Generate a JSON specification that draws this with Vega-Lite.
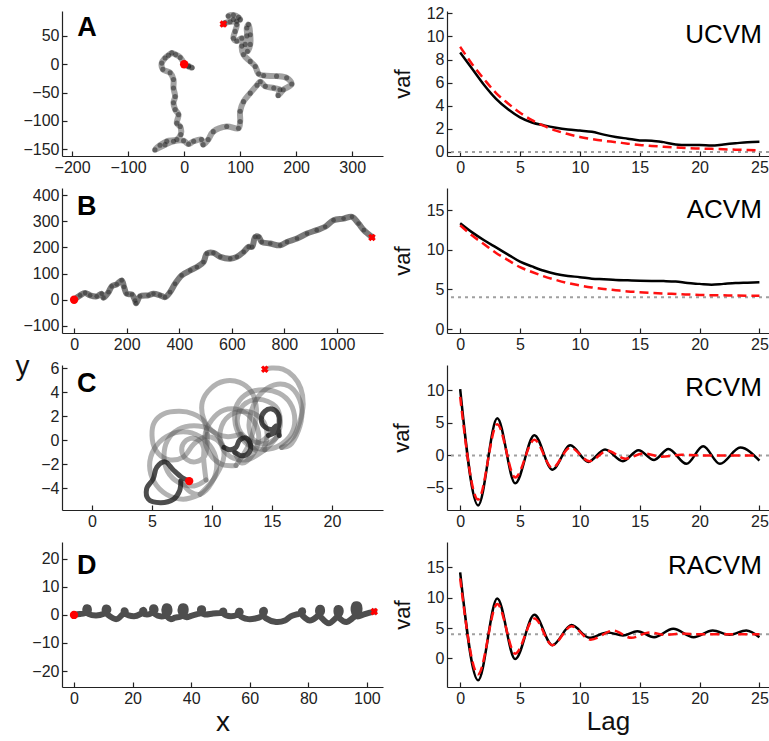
{
"$schema": "https://vega.github.io/schema/vega-lite/v6.json",
"padding": {"left": 15, "top": 5, "right": 0, "bottom": 0},
"background": "white",
"bounds": "flush",
"columns": 2,
"spacing": {"row": 32, "column": 64},
"config": {
  "view": {"stroke": null},
  "font": "Liberation Sans",
  "axis": {"grid": false, "tickCount": 100, "tickSize": -5, "tickColor": "#222", "domainColor": "#222", "domainWidth": 1.2, "tickWidth": 1.2, "labelFontSize": 16, "labelColor": "#222", "labelPadding": 8, "labelOverlap": false, "labelFlush": false, "format": "d", "titleFontWeight": "normal", "titleColor": "#111", "titleFontSize": 22, "labelFont": "Liberation Sans", "titleFont": "Liberation Sans"}
},
"datasets": {
  "one": [{"n": 1}],
  "A_path": [{"x":0,"y":0},{"x":8,"y":-3},{"x":14,"y":-6},{"x":8,"y":-4},{"x":0,"y":2},{"x":-7,"y":12},{"x":-15,"y":17},{"x":-22,"y":20},{"x":-28,"y":16},{"x":-34,"y":11},{"x":-40,"y":2},{"x":-38,"y":-9},{"x":-25,"y":-15},{"x":-19,"y":-27},{"x":-19,"y":-42},{"x":-16,"y":-57},{"x":-19,"y":-68},{"x":-16,"y":-80},{"x":-10,"y":-89},{"x":-13,"y":-104},{"x":-7,"y":-110},{"x":-6,"y":-124},{"x":-13,"y":-133},{"x":-31,"y":-136},{"x":-43,"y":-143},{"x":-52,"y":-151},{"x":-34,"y":-142},{"x":-19,"y":-136},{"x":-1,"y":-135},{"x":8,"y":-141},{"x":17,"y":-136},{"x":31,"y":-133},{"x":34,"y":-142},{"x":43,"y":-133},{"x":52,"y":-119},{"x":76,"y":-110},{"x":97,"y":-113},{"x":100,"y":-101},{"x":100,"y":-83},{"x":106,"y":-66},{"x":118,"y":-51},{"x":130,"y":-37},{"x":136,"y":-31},{"x":145,"y":-39},{"x":160,"y":-42},{"x":171,"y":-45},{"x":168,"y":-55},{"x":177,"y":-45},{"x":192,"y":-35},{"x":183,"y":-24},{"x":165,"y":-21},{"x":142,"y":-20},{"x":133,"y":-17},{"x":127,"y":-4},{"x":118,"y":5},{"x":106,"y":17},{"x":103,"y":32},{"x":112,"y":50},{"x":112,"y":64},{"x":115,"y":70},{"x":118,"y":52},{"x":118,"y":35},{"x":113,"y":23},{"x":109,"y":35},{"x":103,"y":46},{"x":94,"y":41},{"x":88,"y":46},{"x":91,"y":58},{"x":94,"y":70},{"x":88,"y":79},{"x":79,"y":85},{"x":88,"y":87},{"x":97,"y":83},{"x":100,"y":79},{"x":94,"y":76},{"x":82,"y":75},{"x":73,"y":73},{"x":70,"y":71}],
  "B_path": [{"x":0,"y":0},{"x":23,"y":17},{"x":42,"y":26},{"x":61,"y":17},{"x":86,"y":13},{"x":105,"y":23},{"x":112,"y":8},{"x":131,"y":29},{"x":143,"y":51},{"x":162,"y":59},{"x":181,"y":74},{"x":190,"y":49},{"x":200,"y":23},{"x":220,"y":20},{"x":232,"y":-3},{"x":236,"y":-13},{"x":251,"y":13},{"x":283,"y":17},{"x":302,"y":23},{"x":327,"y":17},{"x":346,"y":10},{"x":365,"y":29},{"x":384,"y":61},{"x":409,"y":93},{"x":442,"y":112},{"x":467,"y":125},{"x":492,"y":144},{"x":505,"y":176},{"x":530,"y":179},{"x":556,"y":164},{"x":594,"y":157},{"x":619,"y":164},{"x":645,"y":183},{"x":664,"y":202},{"x":677,"y":202},{"x":689,"y":240},{"x":702,"y":240},{"x":714,"y":221},{"x":746,"y":215},{"x":784,"y":208},{"x":810,"y":221},{"x":848,"y":234},{"x":886,"y":253},{"x":923,"y":266},{"x":955,"y":279},{"x":987,"y":304},{"x":1025,"y":310},{"x":1057,"y":317},{"x":1082,"y":291},{"x":1102,"y":266},{"x":1133,"y":240}],
  "C_path": [
    {"k":1,"x":7.4,"y":-3.4},{"k":1,"x":8.2,"y":-4.3},{"k":1,"x":9.0,"y":-4.5},{"k":1,"x":10.0,"y":-3.5},{"k":1,"x":10.4,"y":-2.1},{"k":1,"x":10.0,"y":-0.7},{"k":1,"x":9.0,"y":0.3},{"k":1,"x":7.6,"y":0.7},{"k":1,"x":6.2,"y":0.3},{"k":1,"x":5.2,"y":-0.7},{"k":1,"x":4.8,"y":-2.1},{"k":1,"x":5.2,"y":-3.5},{"k":1,"x":6.2,"y":-4.5},{"k":1,"x":7.6,"y":-4.9},{"k":1,"x":9.0,"y":-4.5},
    {"k":2,"x":9.0,"y":-4.5},{"k":2,"x":10.3,"y":-3.0},{"k":2,"x":11.0,"y":-1.3},{"k":2,"x":10.7,"y":0.0},{"k":2,"x":9.8,"y":0.9},{"k":2,"x":8.5,"y":1.2},{"k":2,"x":7.2,"y":0.9},{"k":2,"x":6.3,"y":0.0},{"k":2,"x":6.0,"y":-1.3},{"k":2,"x":6.3,"y":-2.6},{"k":2,"x":7.2,"y":-3.5},{"k":2,"x":8.5,"y":-3.8},{"k":2,"x":9.5,"y":-3.3},
    {"k":3,"x":9.5,"y":-3.3},{"k":3,"x":9.3,"y":-1.5},{"k":3,"x":9.3,"y":-0.6},{"k":3,"x":8.9,"y":0.0},{"k":3,"x":8.2,"y":0.15},{"k":3,"x":7.6,"y":-0.3},{"k":3,"x":7.5,"y":-1.0},{"k":3,"x":7.9,"y":-1.6},{"k":3,"x":8.6,"y":-1.8},{"k":3,"x":9.4,"y":-1.3},{"k":3,"x":9.6,"y":0.5},
    {"k":4,"x":9.6,"y":0.5},{"k":4,"x":9.3,"y":1.6},{"k":4,"x":8.4,"y":2.2},{"k":4,"x":7.3,"y":2.4},{"k":4,"x":6.0,"y":2.2},{"k":4,"x":5.2,"y":1.5},{"k":4,"x":5.0,"y":0.4},{"k":4,"x":5.3,"y":-0.8},{"k":4,"x":6.3,"y":-1.6},{"k":4,"x":7.6,"y":-1.4},{"k":4,"x":8.5,"y":-0.3},{"k":4,"x":9.5,"y":0.3},{"k":4,"x":10.3,"y":0.1},{"k":4,"x":11.0,"y":-0.6},
    {"k":5,"x":11.9,"y":-1.0},{"k":5,"x":12.5,"y":-1.9},{"k":5,"x":13.4,"y":-1.2},{"k":5,"x":13.9,"y":0.3},{"k":5,"x":13.4,"y":1.7},{"k":5,"x":12.3,"y":2.5},{"k":5,"x":11.0,"y":2.5},{"k":5,"x":10.0,"y":1.7},{"k":5,"x":9.4,"y":0.3},{"k":5,"x":9.8,"y":-1.1},{"k":5,"x":10.8,"y":-2.0},{"k":5,"x":12.0,"y":-2.1},
    {"k":6,"x":12.0,"y":-2.1},{"k":6,"x":13.0,"y":-0.5},{"k":6,"x":13.5,"y":1.0},{"k":6,"x":13.7,"y":2.6},{"k":6,"x":13.3,"y":4.0},{"k":6,"x":12.3,"y":4.8},{"k":6,"x":11.0,"y":4.9},{"k":6,"x":9.9,"y":4.3},{"k":6,"x":9.2,"y":3.2},{"k":6,"x":9.3,"y":1.8},{"k":6,"x":10.0,"y":0.8},{"k":6,"x":11.2,"y":0.3},{"k":6,"x":12.4,"y":0.5},
    {"k":7,"x":12.4,"y":0.5},{"k":7,"x":14.0,"y":-1.0},{"k":7,"x":14.6,"y":0.4},{"k":7,"x":14.1,"y":1.8},{"k":7,"x":12.8,"y":2.4},{"k":7,"x":11.4,"y":2.0},{"k":7,"x":10.7,"y":0.8},{"k":7,"x":10.9,"y":-0.7},{"k":7,"x":11.8,"y":-1.5},{"k":7,"x":13.0,"y":-1.6},{"k":7,"x":14.4,"y":-0.8},
    {"k":8,"x":14.4,"y":-0.8},{"k":8,"x":15.5,"y":-0.5},{"k":8,"x":16.6,"y":0.5},{"k":8,"x":16.9,"y":1.7},{"k":8,"x":16.5,"y":3.1},{"k":8,"x":15.6,"y":3.9},{"k":8,"x":14.4,"y":4.2},{"k":8,"x":13.0,"y":3.9},{"k":8,"x":12.1,"y":3.0},{"k":8,"x":11.9,"y":1.7},{"k":8,"x":12.3,"y":0.4},{"k":8,"x":13.2,"y":-0.5},{"k":8,"x":14.4,"y":-0.8},
    {"k":9,"x":14.4,"y":-0.8},{"k":9,"x":15.4,"y":0.3},{"k":9,"x":15.7,"y":1.6},{"k":9,"x":15.3,"y":2.8},{"k":9,"x":13.9,"y":3.4},{"k":9,"x":12.6,"y":2.9},{"k":9,"x":12.1,"y":1.6},{"k":9,"x":12.6,"y":0.4},{"k":9,"x":13.8,"y":-0.2},{"k":9,"x":14.7,"y":0.4},
    {"k":10,"x":15.6,"y":0.4},{"k":10,"x":14.5,"y":-0.3},{"k":10,"x":13.5,"y":0.0},{"k":10,"x":13.1,"y":1.0},{"k":10,"x":13.3,"y":2.5},{"k":10,"x":14.0,"y":3.8},{"k":10,"x":15.2,"y":4.6},{"k":10,"x":16.4,"y":4.5},{"k":10,"x":17.2,"y":3.6},{"k":10,"x":17.5,"y":2.3},{"k":10,"x":17.2,"y":0.8},{"k":10,"x":16.5,"y":-0.4},{"k":10,"x":15.8,"y":-0.6},
    {"k":11,"x":15.8,"y":-0.6},{"k":11,"x":16.8,"y":0.3},{"k":11,"x":17.3,"y":1.5},{"k":11,"x":17.6,"y":3.0},{"k":11,"x":17.4,"y":4.3},{"k":11,"x":16.8,"y":5.3},{"k":11,"x":15.9,"y":5.9},{"k":11,"x":15.0,"y":6.0},{"k":11,"x":14.4,"y":5.9}
  ],
  "C_dark": [
    {"k":1,"x":8.1,"y":-3.4},{"k":1,"x":7.5,"y":-3.1},{"k":1,"x":6.8,"y":-2.5},{"k":1,"x":6.1,"y":-1.8},{"k":1,"x":5.4,"y":-2.25},{"k":1,"x":5.1,"y":-3.2},{"k":1,"x":4.55,"y":-4.05},{"k":1,"x":4.7,"y":-4.9},{"k":1,"x":5.7,"y":-5.2},{"k":1,"x":6.8,"y":-4.9},{"k":1,"x":7.3,"y":-4.2},{"k":1,"x":7.4,"y":-3.4},
    {"k":2,"x":11.0,"y":-0.6},{"k":2,"x":11.5,"y":-0.8},{"k":2,"x":12.0,"y":-0.6},{"k":2,"x":12.3,"y":0.0},{"k":2,"x":12.8,"y":0.2},{"k":2,"x":13.2,"y":-0.3},{"k":2,"x":13.1,"y":-1.0},{"k":2,"x":12.5,"y":-1.3},{"k":2,"x":11.9,"y":-1.0},
    {"k":3,"x":14.7,"y":0.4},{"k":3,"x":15.3,"y":0.7},{"k":3,"x":15.6,"y":1.4},{"k":3,"x":15.5,"y":2.2},{"k":3,"x":15.0,"y":2.6},{"k":3,"x":14.4,"y":2.4},{"k":3,"x":14.1,"y":1.7},{"k":3,"x":14.4,"y":1.1},{"k":3,"x":15.0,"y":0.9},{"k":3,"x":15.4,"y":1.2},{"k":3,"x":15.6,"y":0.4}
  ],
  "D_path": [{"x":0,"y":0},{"x":2,"y":0.3},{"x":3.6,"y":0.6},{"x":5.0,"y":1.4},{"x":4.9,"y":2.6},{"x":4.1,"y":2.7},{"x":3.9,"y":1.4},{"x":4.9,"y":0.4},{"x":7.5,"y":-0.2},{"x":10.2,"y":0.4},{"x":11.6,"y":1.4},{"x":11.5,"y":2.5},{"x":10.7,"y":2.6},{"x":10.5,"y":1.3},{"x":11.5,"y":0.1},{"x":14.5,"y":-1.5},{"x":16.6,"y":0.2},{"x":17.6,"y":1.0},{"x":17.5,"y":1.6},{"x":17.0,"y":1.6},{"x":17.2,"y":0.6},{"x":20.5,"y":-0.5},{"x":23.0,"y":0.5},{"x":24.0,"y":1.2},{"x":23.8,"y":1.8},{"x":23.3,"y":1.6},{"x":23.6,"y":0.6},{"x":25.5,"y":0.2},{"x":26.6,"y":0.8},{"x":27.8,"y":1.6},{"x":27.6,"y":2.6},{"x":26.8,"y":2.6},{"x":26.8,"y":1.4},{"x":27.8,"y":0.2},{"x":29.5,"y":-0.5},{"x":31.0,"y":-0.3},{"x":32.5,"y":1.0},{"x":32.3,"y":2.9},{"x":31.2,"y":3.0},{"x":30.9,"y":1.2},{"x":31.8,"y":-0.6},{"x":33.0,"y":-1.5},{"x":34.5,"y":-1.0},{"x":36.6,"y":-0.5},{"x":38.0,"y":1.0},{"x":37.9,"y":2.9},{"x":36.8,"y":3.0},{"x":36.4,"y":1.3},{"x":37.3,"y":-0.3},{"x":38.5,"y":-0.8},{"x":40.0,"y":-0.3},{"x":42.0,"y":0.3},{"x":43.0,"y":0.6},{"x":44.0,"y":1.5},{"x":43.9,"y":2.3},{"x":43.1,"y":2.2},{"x":43.2,"y":1.0},{"x":44.5,"y":0.2},{"x":47.5,"y":0.5},{"x":50.5,"y":0.8},{"x":51.3,"y":1.2},{"x":51.1,"y":1.6},{"x":50.6,"y":1.4},{"x":51.0,"y":0.5},{"x":53.5,"y":-0.5},{"x":56.0,"y":0.2},{"x":56.9,"y":0.9},{"x":56.7,"y":1.5},{"x":56.1,"y":1.3},{"x":56.4,"y":0.0},{"x":59.5,"y":-1.5},{"x":64.0,"y":-0.5},{"x":65.1,"y":0.8},{"x":65.0,"y":1.8},{"x":64.3,"y":1.6},{"x":64.4,"y":0.2},{"x":65.5,"y":-1.2},{"x":69.0,"y":-2.5},{"x":72.0,"y":-2.0},{"x":74.0,"y":-0.5},{"x":76.0,"y":0.2},{"x":77.3,"y":0.5},{"x":78.2,"y":1.0},{"x":78.1,"y":1.6},{"x":77.5,"y":1.4},{"x":77.7,"y":0.3},{"x":80.5,"y":-2.0},{"x":83.3,"y":-0.3},{"x":84.6,"y":1.0},{"x":84.5,"y":2.4},{"x":83.6,"y":2.4},{"x":83.4,"y":0.8},{"x":84.5,"y":-1.0},{"x":87.0,"y":-3.0},{"x":89.5,"y":-1.0},{"x":90.9,"y":0.6},{"x":90.8,"y":2.3},{"x":89.9,"y":2.4},{"x":89.7,"y":0.6},{"x":90.8,"y":-1.3},{"x":93.0,"y":-2.5},{"x":95.3,"y":-1.0},{"x":97.3,"y":1.0},{"x":97.2,"y":3.5},{"x":95.9,"y":3.7},{"x":95.5,"y":1.6},{"x":96.7,"y":-0.5},{"x":99.0,"y":0.2},{"x":101.0,"y":0.8},{"x":102.5,"y":1.2}],
  "UCVM_obs": [{"lag":0,"vaf":8.6},{"lag":1,"vaf":7.2},{"lag":2,"vaf":5.8},{"lag":3,"vaf":4.6},{"lag":4,"vaf":3.7},{"lag":5,"vaf":3.0},{"lag":6,"vaf":2.55},{"lag":7,"vaf":2.3},{"lag":8,"vaf":2.1},{"lag":9,"vaf":1.95},{"lag":10,"vaf":1.85},{"lag":11,"vaf":1.75},{"lag":12,"vaf":1.5},{"lag":13,"vaf":1.3},{"lag":14,"vaf":1.15},{"lag":15,"vaf":1.0},{"lag":16,"vaf":0.98},{"lag":17,"vaf":0.85},{"lag":18,"vaf":0.65},{"lag":19,"vaf":0.6},{"lag":20,"vaf":0.6},{"lag":21,"vaf":0.55},{"lag":22,"vaf":0.65},{"lag":23,"vaf":0.75},{"lag":24,"vaf":0.85},{"lag":25,"vaf":0.88}],
  "UCVM_fit": [{"lag":0,"vaf":9.1},{"lag":1,"vaf":7.6},{"lag":2,"vaf":6.3},{"lag":3,"vaf":5.1},{"lag":4,"vaf":4.2},{"lag":5,"vaf":3.4},{"lag":6,"vaf":2.75},{"lag":7,"vaf":2.25},{"lag":8,"vaf":1.85},{"lag":9,"vaf":1.55},{"lag":10,"vaf":1.3},{"lag":11,"vaf":1.12},{"lag":12,"vaf":0.97},{"lag":13,"vaf":0.85},{"lag":14,"vaf":0.72},{"lag":15,"vaf":0.6},{"lag":16,"vaf":0.52},{"lag":17,"vaf":0.45},{"lag":18,"vaf":0.38},{"lag":19,"vaf":0.33},{"lag":20,"vaf":0.3},{"lag":21,"vaf":0.27},{"lag":22,"vaf":0.23},{"lag":23,"vaf":0.2},{"lag":24,"vaf":0.17},{"lag":25,"vaf":0.15}],
  "ACVM_obs": [{"lag":0,"vaf":13.35},{"lag":1,"vaf":12.2},{"lag":2,"vaf":11.2},{"lag":3,"vaf":10.3},{"lag":4,"vaf":9.4},{"lag":5,"vaf":8.5},{"lag":6,"vaf":7.9},{"lag":7,"vaf":7.35},{"lag":8,"vaf":6.95},{"lag":9,"vaf":6.7},{"lag":10,"vaf":6.55},{"lag":11,"vaf":6.35},{"lag":12,"vaf":6.28},{"lag":13,"vaf":6.2},{"lag":14,"vaf":6.15},{"lag":15,"vaf":6.1},{"lag":16,"vaf":6.07},{"lag":17,"vaf":6.05},{"lag":18,"vaf":6.0},{"lag":19,"vaf":5.8},{"lag":20,"vaf":5.7},{"lag":21,"vaf":5.6},{"lag":22,"vaf":5.7},{"lag":23,"vaf":5.8},{"lag":24,"vaf":5.85},{"lag":25,"vaf":5.9}],
  "ACVM_fit": [{"lag":0,"vaf":13.1},{"lag":1,"vaf":11.8},{"lag":2,"vaf":10.7},{"lag":3,"vaf":9.6},{"lag":4,"vaf":8.7},{"lag":5,"vaf":7.8},{"lag":6,"vaf":7.2},{"lag":7,"vaf":6.65},{"lag":8,"vaf":6.2},{"lag":9,"vaf":5.8},{"lag":10,"vaf":5.5},{"lag":11,"vaf":5.25},{"lag":12,"vaf":5.05},{"lag":13,"vaf":4.9},{"lag":14,"vaf":4.75},{"lag":15,"vaf":4.65},{"lag":16,"vaf":4.55},{"lag":17,"vaf":4.48},{"lag":18,"vaf":4.42},{"lag":19,"vaf":4.36},{"lag":20,"vaf":4.3},{"lag":21,"vaf":4.27},{"lag":22,"vaf":4.25},{"lag":23,"vaf":4.23},{"lag":24,"vaf":4.21},{"lag":25,"vaf":4.2}],
  "RCVM_obs": [{"lag":0,"vaf":10.2},{"lag":1.5,"vaf":-7.7},{"lag":3.1,"vaf":5.7},{"lag":4.6,"vaf":-4.3},{"lag":6.2,"vaf":3.1},{"lag":7.7,"vaf":-2.2},{"lag":9.2,"vaf":1.55},{"lag":10.7,"vaf":-1.0},{"lag":12.1,"vaf":0.9},{"lag":13.6,"vaf":-0.9},{"lag":14.9,"vaf":0.8},{"lag":16.2,"vaf":-0.7},{"lag":17.4,"vaf":1.0},{"lag":18.9,"vaf":-1.3},{"lag":20.3,"vaf":1.4},{"lag":21.7,"vaf":-1.3},{"lag":23.4,"vaf":1.2},{"lag":25,"vaf":-0.8}],
  "RCVM_fit": [{"lag":0,"vaf":9.0},{"lag":1.5,"vaf":-6.8},{"lag":3.1,"vaf":4.8},{"lag":4.6,"vaf":-3.4},{"lag":6.2,"vaf":2.4},{"lag":7.7,"vaf":-1.9},{"lag":9.2,"vaf":1.2},{"lag":10.8,"vaf":-0.9},{"lag":12.3,"vaf":0.7},{"lag":13.8,"vaf":-0.5},{"lag":15.3,"vaf":0.3},{"lag":16.8,"vaf":-0.2},{"lag":18.5,"vaf":0.1},{"lag":20,"vaf":0},{"lag":25,"vaf":0}],
  "RACVM_obs": [{"lag":0,"vaf":14.2},{"lag":1.5,"vaf":-3.6},{"lag":3.1,"vaf":9.9},{"lag":4.6,"vaf":-0.1},{"lag":6.2,"vaf":7.2},{"lag":7.7,"vaf":2.2},{"lag":9.3,"vaf":5.5},{"lag":10.8,"vaf":3.4},{"lag":12.3,"vaf":4.3},{"lag":13.6,"vaf":3.8},{"lag":14.8,"vaf":4.5},{"lag":16.2,"vaf":3.5},{"lag":17.8,"vaf":4.9},{"lag":19.5,"vaf":3.5},{"lag":21.1,"vaf":4.6},{"lag":22.5,"vaf":3.9},{"lag":23.9,"vaf":4.6},{"lag":25,"vaf":3.5}],
  "RACVM_fit": [{"lag":0,"vaf":13.2},{"lag":1.5,"vaf":-2.6},{"lag":3.1,"vaf":9.0},{"lag":4.6,"vaf":0.8},{"lag":6.2,"vaf":6.6},{"lag":7.7,"vaf":2.2},{"lag":9.3,"vaf":5.3},{"lag":10.9,"vaf":3.1},{"lag":12.8,"vaf":4.6},{"lag":14.3,"vaf":3.4},{"lag":15.8,"vaf":4.3},{"lag":17.2,"vaf":3.9},{"lag":18.5,"vaf":4.1},{"lag":20,"vaf":4.0},{"lag":25,"vaf":4.0}]
},
"concat": [
  {"width": 321, "height": 145, "layer": [
    {"data": {"name": "A_path"}, "mark": {"type": "line", "color": "#444", "opacity": 0.5, "strokeWidth": 6, "strokeCap": "round", "strokeJoin": "round", "interpolate": "catmull-rom"},
     "encoding": {"x": {"field": "x", "type": "quantitative", "scale": {"domain": [-218, 355], "nice": false, "zero": false}, "axis": {"values": [-200, -100, 0, 100, 200, 300], "title": null}},
                  "y": {"field": "y", "type": "quantitative", "scale": {"domain": [-162, 94], "nice": false, "zero": false}, "axis": {"values": [-150, -100, -50, 0, 50], "title": null}},
                  "order": {"value": null}}},
    {"data": {"name": "A_path"}, "mark": {"type": "circle", "color": "#111", "opacity": 0.45, "size": 26}, "encoding": {"x": {"field": "x", "type": "quantitative"}, "y": {"field": "y", "type": "quantitative"}}},
    {"data": {"name": "one"}, "mark": {"type": "text", "text": "A", "fontSize": 27, "fontWeight": "bold", "align": "left", "baseline": "alphabetic", "color": "#000"}, "encoding": {"x": {"datum": -191, "type": "quantitative"}, "y": {"datum": 50, "type": "quantitative"}}},
    {"data": {"name": "one"}, "mark": {"type": "point", "shape": "circle", "filled": true, "color": "#ff0000", "size": 70, "opacity": 1}, "encoding": {"x": {"datum": 0, "type": "quantitative"}, "y": {"datum": 0, "type": "quantitative"}}},
    {"data": {"name": "one"}, "mark": {"type": "point", "shape": "cross", "angle": 45, "filled": true, "color": "#ff0000", "size": 60, "opacity": 1}, "encoding": {"x": {"datum": 70, "type": "quantitative"}, "y": {"datum": 71, "type": "quantitative"}}}
  ]},
  {"width": 322, "height": 145, "layer": [
    {"data": {"name": "one"}, "mark": {"type": "rule", "color": "#a0a0a0", "strokeWidth": 2, "strokeDash": [3, 4]}, "encoding": {"y": {"datum": 0, "type": "quantitative", "scale": {"domain": [-0.35, 12.2], "nice": false, "zero": false}, "axis": {"values": [0, 2, 4, 6, 8, 10, 12], "title": "vaf", "titlePadding": 12}}}},
    {"data": {"name": "UCVM_obs"}, "mark": {"type": "line", "color": "#000", "strokeWidth": 2.5, "interpolate": "monotone"}, "encoding": {"x": {"field": "lag", "type": "quantitative", "scale": {"domain": [-1.1, 25.8], "nice": false, "zero": false}, "axis": {"values": [0, 5, 10, 15, 20, 25], "title": null}}, "y": {"field": "vaf", "type": "quantitative"}}},
    {"data": {"name": "UCVM_fit"}, "mark": {"type": "line", "color": "#ff1010", "strokeWidth": 2.5, "strokeDash": [9, 5], "interpolate": "monotone"}, "encoding": {"x": {"field": "lag", "type": "quantitative"}, "y": {"field": "vaf", "type": "quantitative"}}},
    {"data": {"name": "one"}, "mark": {"type": "text", "text": "UCVM", "fontSize": 26, "align": "right", "baseline": "alphabetic", "color": "#000"}, "encoding": {"x": {"datum": 25.2, "type": "quantitative"}, "y": {"datum": 9.46, "type": "quantitative"}}}
  ]},
  {"width": 321, "height": 145, "layer": [
    {"data": {"name": "B_path"}, "mark": {"type": "line", "color": "#333", "opacity": 0.65, "strokeWidth": 6, "strokeCap": "round", "strokeJoin": "round", "interpolate": "catmull-rom"},
     "encoding": {"x": {"field": "x", "type": "quantitative", "scale": {"domain": [-46, 1175], "nice": false, "zero": false}, "axis": {"values": [0, 200, 400, 600, 800, 1000], "title": null}},
                  "y": {"field": "y", "type": "quantitative", "scale": {"domain": [-127, 427], "nice": false, "zero": false}, "axis": {"values": [-100, 0, 100, 200, 300, 400], "title": null}},
                  "order": {"value": null}}},
    {"data": {"name": "B_path"}, "mark": {"type": "circle", "color": "#111", "opacity": 0.4, "size": 22}, "encoding": {"x": {"field": "x", "type": "quantitative"}, "y": {"field": "y", "type": "quantitative"}}},
    {"data": {"name": "one"}, "mark": {"type": "text", "text": "B", "fontSize": 27, "fontWeight": "bold", "align": "left", "baseline": "alphabetic", "color": "#000"}, "encoding": {"x": {"datum": 11, "type": "quantitative"}, "y": {"datum": 324, "type": "quantitative"}}},
    {"data": {"name": "one"}, "mark": {"type": "point", "shape": "circle", "filled": true, "color": "#ff0000", "size": 70, "opacity": 1}, "encoding": {"x": {"datum": 0, "type": "quantitative"}, "y": {"datum": 0, "type": "quantitative"}}},
    {"data": {"name": "one"}, "mark": {"type": "point", "shape": "cross", "angle": 45, "filled": true, "color": "#ff0000", "size": 60, "opacity": 1}, "encoding": {"x": {"datum": 1133, "type": "quantitative"}, "y": {"datum": 238, "type": "quantitative"}}}
  ]},
  {"width": 322, "height": 145, "layer": [
    {"data": {"name": "one"}, "mark": {"type": "rule", "color": "#a0a0a0", "strokeWidth": 2, "strokeDash": [3, 4]}, "encoding": {"y": {"datum": 4, "type": "quantitative", "scale": {"domain": [-0.5, 17.8], "nice": false, "zero": false}, "axis": {"values": [0, 5, 10, 15], "title": "vaf", "titlePadding": 12}}}},
    {"data": {"name": "ACVM_obs"}, "mark": {"type": "line", "color": "#000", "strokeWidth": 2.5, "interpolate": "monotone"}, "encoding": {"x": {"field": "lag", "type": "quantitative", "scale": {"domain": [-1.1, 25.8], "nice": false, "zero": false}, "axis": {"values": [0, 5, 10, 15, 20, 25], "title": null}}, "y": {"field": "vaf", "type": "quantitative"}}},
    {"data": {"name": "ACVM_fit"}, "mark": {"type": "line", "color": "#ff1010", "strokeWidth": 2.5, "strokeDash": [9, 5], "interpolate": "monotone"}, "encoding": {"x": {"field": "lag", "type": "quantitative"}, "y": {"field": "vaf", "type": "quantitative"}}},
    {"data": {"name": "one"}, "mark": {"type": "text", "text": "ACVM", "fontSize": 26, "align": "right", "baseline": "alphabetic", "color": "#000"}, "encoding": {"x": {"datum": 25.2, "type": "quantitative"}, "y": {"datum": 14.0, "type": "quantitative"}}}
  ]},
  {"width": 321, "height": 145, "layer": [
    {"data": {"name": "C_path"}, "mark": {"type": "line", "color": "#555", "opacity": 0.45, "strokeWidth": 5, "strokeCap": "round", "strokeJoin": "round", "interpolate": "catmull-rom"},
     "encoding": {"x": {"field": "x", "type": "quantitative", "scale": {"domain": [-2.5, 24.25], "nice": false, "zero": false}, "axis": {"values": [0, 5, 10, 15, 20], "title": null}},
                  "y": {"field": "y", "type": "quantitative", "scale": {"domain": [-5.8, 6.25], "nice": false, "zero": false}, "axis": {"values": [-4, -2, 0, 2, 4, 6], "title": "y", "titleAngle": 0, "titleFontSize": 28, "titleAlign": "center", "titleBaseline": "alphabetic", "titleX": -40, "titleY": 9}},
                  "detail": {"field": "k", "type": "nominal"},
                  "order": {"value": null}}},
    {"data": {"name": "C_dark"}, "mark": {"type": "line", "color": "#111", "opacity": 0.75, "strokeWidth": 5, "strokeCap": "round", "strokeJoin": "round", "interpolate": "catmull-rom"},
     "encoding": {"x": {"field": "x", "type": "quantitative"}, "y": {"field": "y", "type": "quantitative"}, "detail": {"field": "k", "type": "nominal"}, "order": {"value": null}}},
    {"data": {"name": "one"}, "mark": {"type": "text", "text": "C", "fontSize": 27, "fontWeight": "bold", "align": "left", "baseline": "alphabetic", "color": "#000"}, "encoding": {"x": {"datum": -1.25, "type": "quantitative"}, "y": {"datum": 4.0, "type": "quantitative"}}},
    {"data": {"name": "one"}, "mark": {"type": "point", "shape": "circle", "filled": true, "color": "#ff0000", "size": 70, "opacity": 1}, "encoding": {"x": {"datum": 8.1, "type": "quantitative"}, "y": {"datum": -3.4, "type": "quantitative"}}},
    {"data": {"name": "one"}, "mark": {"type": "point", "shape": "cross", "angle": 45, "filled": true, "color": "#ff0000", "size": 60, "opacity": 1}, "encoding": {"x": {"datum": 14.4, "type": "quantitative"}, "y": {"datum": 5.9, "type": "quantitative"}}}
  ]},
  {"width": 322, "height": 145, "layer": [
    {"data": {"name": "one"}, "mark": {"type": "rule", "color": "#a0a0a0", "strokeWidth": 2, "strokeDash": [3, 4]}, "encoding": {"y": {"datum": 0, "type": "quantitative", "scale": {"domain": [-8.4, 13.9], "nice": false, "zero": false}, "axis": {"values": [-5, 0, 5, 10], "title": "vaf", "titlePadding": 12}}}},
    {"data": {"name": "RCVM_obs"}, "mark": {"type": "line", "color": "#000", "strokeWidth": 2.5, "interpolate": "monotone"}, "encoding": {"x": {"field": "lag", "type": "quantitative", "scale": {"domain": [-1.1, 25.8], "nice": false, "zero": false}, "axis": {"values": [0, 5, 10, 15, 20, 25], "title": null}}, "y": {"field": "vaf", "type": "quantitative"}}},
    {"data": {"name": "RCVM_fit"}, "mark": {"type": "line", "color": "#ff1010", "strokeWidth": 2.5, "strokeDash": [9, 5], "interpolate": "monotone"}, "encoding": {"x": {"field": "lag", "type": "quantitative"}, "y": {"field": "vaf", "type": "quantitative"}}},
    {"data": {"name": "one"}, "mark": {"type": "text", "text": "RCVM", "fontSize": 26, "align": "right", "baseline": "alphabetic", "color": "#000"}, "encoding": {"x": {"datum": 25.2, "type": "quantitative"}, "y": {"datum": 9.1, "type": "quantitative"}}}
  ]},
  {"width": 321, "height": 145, "layer": [
    {"data": {"name": "D_path"}, "mark": {"type": "line", "color": "#222", "opacity": 0.8, "strokeWidth": 6, "strokeCap": "round", "strokeJoin": "round", "interpolate": "catmull-rom"},
     "encoding": {"x": {"field": "x", "type": "quantitative", "scale": {"domain": [-4.1, 105.5], "nice": false, "zero": false}, "axis": {"values": [0, 20, 40, 60, 80, 100], "title": "x", "titleFontSize": 28, "titlePadding": 2}},
                  "y": {"field": "y", "type": "quantitative", "scale": {"domain": [-25.7, 26], "nice": false, "zero": false}, "axis": {"values": [-20, -10, 0, 10, 20], "title": null}},
                  "order": {"value": null}}},
    {"data": {"name": "one"}, "mark": {"type": "text", "text": "D", "fontSize": 27, "fontWeight": "bold", "align": "left", "baseline": "alphabetic", "color": "#000"}, "encoding": {"x": {"datum": 1.0, "type": "quantitative"}, "y": {"datum": 14.7, "type": "quantitative"}}},
    {"data": {"name": "one"}, "mark": {"type": "point", "shape": "circle", "filled": true, "color": "#ff0000", "size": 70, "opacity": 1}, "encoding": {"x": {"datum": 0, "type": "quantitative"}, "y": {"datum": 0, "type": "quantitative"}}},
    {"data": {"name": "one"}, "mark": {"type": "point", "shape": "cross", "angle": 45, "filled": true, "color": "#ff0000", "size": 60, "opacity": 1}, "encoding": {"x": {"datum": 102.5, "type": "quantitative"}, "y": {"datum": 1.2, "type": "quantitative"}}}
  ]},
  {"width": 322, "height": 145, "layer": [
    {"data": {"name": "one"}, "mark": {"type": "rule", "color": "#a0a0a0", "strokeWidth": 2, "strokeDash": [3, 4]}, "encoding": {"y": {"datum": 4, "type": "quantitative", "scale": {"domain": [-4.7, 19.2], "nice": false, "zero": false}, "axis": {"values": [0, 5, 10, 15], "title": "vaf", "titlePadding": 12}}}},
    {"data": {"name": "RACVM_obs"}, "mark": {"type": "line", "color": "#000", "strokeWidth": 2.5, "interpolate": "monotone"}, "encoding": {"x": {"field": "lag", "type": "quantitative", "scale": {"domain": [-1.1, 25.8], "nice": false, "zero": false}, "axis": {"values": [0, 5, 10, 15, 20, 25], "title": "Lag", "titleFontSize": 26, "titlePadding": 2}}, "y": {"field": "vaf", "type": "quantitative"}}},
    {"data": {"name": "RACVM_fit"}, "mark": {"type": "line", "color": "#ff1010", "strokeWidth": 2.5, "strokeDash": [9, 5], "interpolate": "monotone"}, "encoding": {"x": {"field": "lag", "type": "quantitative"}, "y": {"field": "vaf", "type": "quantitative"}}},
    {"data": {"name": "one"}, "mark": {"type": "text", "text": "RACVM", "fontSize": 26, "align": "right", "baseline": "alphabetic", "color": "#000"}, "encoding": {"x": {"datum": 25.2, "type": "quantitative"}, "y": {"datum": 14.0, "type": "quantitative"}}}
  ]}
]
}
